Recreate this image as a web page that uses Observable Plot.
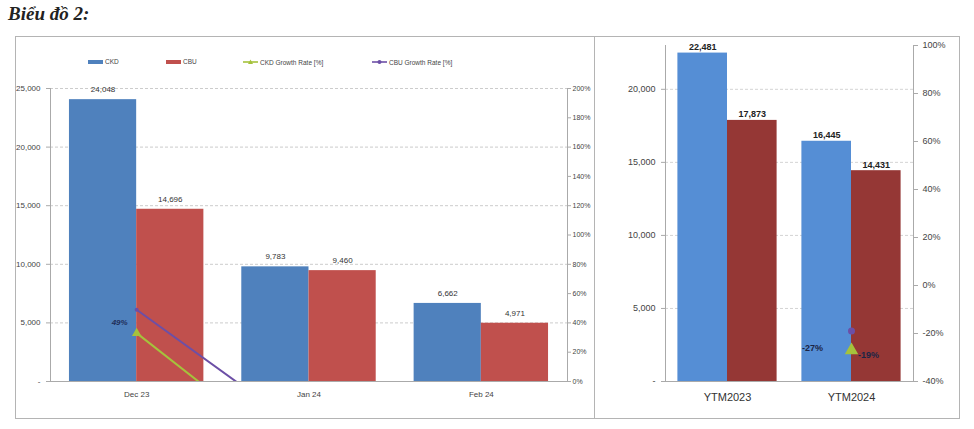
<!DOCTYPE html>
<html>
<head>
<meta charset="utf-8">
<script src="https://cdn.jsdelivr.net/npm/d3@7"></script>
<script src="https://cdn.jsdelivr.net/npm/@observablehq/plot@0.6"></script>
<style>
  html, body { margin: 0; padding: 0; background: #fff; }
  body { width: 974px; height: 429px; position: relative; overflow: hidden; font-family: "Liberation Sans", Arial, sans-serif; }
  #title { position: absolute; left: 8px; top: 3px; font-family: "Liberation Serif", "Times New Roman", serif; font-weight: bold; font-style: italic; font-size: 19px; color: #222; }
  .panel { position: absolute; top: 36px; height: 383px; box-sizing: border-box; border: 1px solid #b4b4b4; }
  #left { left: 15px; width: 580px; }
  #right { left: 594px; width: 366px; }
  #leftChart { position: absolute; left: 0; top: 43px; }
  #rightChart { position: absolute; left: 0; top: 0; }
  .legend { position: absolute; top: 21px; left: 0; width: 100%; height: 12px; font-size: 6.5px; color: #444; }
  .item { position: absolute; display: flex; align-items: center; white-space: nowrap; }
  .sw { display: inline-block; width: 15px; height: 4px; margin-right: 2px; }
  .ln { display: inline-block; width: 15px; height: 8px; margin-right: 2px; }
</style>
</head>
<body>
<div id="title">Biểu đồ 2:</div>
<div class="panel" id="left">
  <div class="legend" id="legend"></div>
  <div id="leftChart"></div>
</div>
<div class="panel" id="right">
  <div id="rightChart"></div>
</div>
<script>
// ---- data (left chart: monthly) ----
const months = ["Dec 23", "Jan 24", "Feb 24"];
const ckd = [24048, 9783, 6662];
const cbu = [14696, 9460, 4971];
const ckdGrowth = [33, -59, -32];   // %
const cbuGrowth = [49, -36, -47];   // %
const leftTicks = [0, 5000, 10000, 15000, 20000, 25000];
const leftPctTicks = [0, 20, 40, 60, 80, 100, 120, 140, 160, 180, 200];

// ---- data (right chart: year to month) ----
const periods = ["YTM2023", "YTM2024"];
const ckdYtm = [22481, 16445];
const cbuYtm = [17873, 14431];
const ckdYtmGrowth = [null, -27];
const cbuYtmGrowth = [null, -19];
const rightTicks = [0, 5000, 10000, 15000, 20000];
const rightPctTicks = [-40, -20, 0, 20, 40, 60, 80, 100];

const seriesNames = ["CKD", "CBU", "CKD Growth Rate [%]", "CBU Growth Rate [%]"];

// ---- colours ----
const blueL = "#4f81bd", redL = "#c0504d";
const blueR = "#558ed5", redR = "#953735";
const green = "#a5c23c", purple = "#6c4fa6";

const fmt = d3.format(",");
const tickFmt = v => v === 0 ? "-" : fmt(v);

// ---------- left chart ----------
const leftTable = months.map((m, i) => ({month: m, ckd: ckd[i], cbu: cbu[i], ckdG: ckdGrowth[i], cbuG: cbuGrowth[i]}));
const LW = 578, LH = 338, LML = 34, LMR = 27;
const lStep = (LW - LML - LMR) / months.length;
const lHalf = lStep * 0.78 / 2;
const lMax = 25000, lPctMax = 200;
const lp = p => p / lPctMax * lMax;   // percent -> left y units

const leftPlot = Plot.plot({
  width: LW, height: LH,
  marginTop: 8, marginBottom: 37, marginLeft: LML, marginRight: LMR,
  style: {fontFamily: "'Liberation Sans', Arial, sans-serif", fontSize: "8px", color: "#444", background: "transparent"},
  x: {domain: months, paddingInner: 0.22, paddingOuter: 0.11, round: false},
  y: {domain: [0, lMax]},
  marks: [
    Plot.gridY(leftTicks.filter(v => v > 0), {stroke: "#cccccc", strokeOpacity: 1, strokeDasharray: "3,2"}),
    Plot.barY(leftTable, {x: "month", y: "ckd", fill: blueL, insetRight: lHalf}),
    Plot.barY(leftTable, {x: "month", y: "cbu", fill: redL, insetLeft: lHalf}),
    Plot.text(leftTable, {x: "month", y: "ckd", text: d => fmt(d.ckd), dx: -lHalf / 2, dy: -10, fontSize: 8, fill: "#333"}),
    Plot.text(leftTable, {x: "month", y: "cbu", text: d => fmt(d.cbu), dx: lHalf / 2, dy: -10, fontSize: 8, fill: "#333"}),
    Plot.line(leftTable, {x: "month", y: d => lp(d.ckdG), stroke: green, strokeWidth: 2, clip: true}),
    Plot.line(leftTable, {x: "month", y: d => lp(d.cbuG), stroke: purple, strokeWidth: 2, clip: true}),
    Plot.dot(leftTable, {x: "month", y: d => lp(d.ckdG), symbol: "triangle", fill: green, r: 3.5, clip: true}),
    Plot.dot(leftTable, {x: "month", y: d => lp(d.cbuG), symbol: "circle", fill: purple, r: 2, clip: true}),
    Plot.text(leftTable.slice(0, 1), {x: "month", y: d => lp(d.cbuG), text: d => d.cbuG + "%", dx: -17, dy: 13, fontSize: 8, fontWeight: "bold", fontStyle: "italic", fill: "#1f2f5a"}),
    Plot.axisY({ticks: leftTicks, tickFormat: tickFmt, tickSize: 4, tickPadding: 6, label: null, stroke: "#aaa", fontSize: 8}),
    Plot.axisY({anchor: "right", ticks: leftPctTicks.map(lp), tickFormat: v => Math.round(v / lMax * lPctMax) + "%", tickSize: 3, tickPadding: 2, label: null, stroke: "#aaa", fontSize: 7}),
    Plot.axisX({tickSize: 0, tickPadding: 10, label: null, fontSize: 8}),
    Plot.frame({anchor: "left", stroke: "#aaa"}),
    Plot.frame({anchor: "right", stroke: "#aaa"}),
    Plot.frame({anchor: "bottom", stroke: "#aaa"})
  ]
});
document.getElementById("leftChart").appendChild(leftPlot);

// legend
const legendItems = [
  {name: seriesNames[0], color: blueL, kind: "bar", left: 72},
  {name: seriesNames[1], color: redL, kind: "bar", left: 150},
  {name: seriesNames[2], color: green, kind: "line", marker: "tri", left: 227},
  {name: seriesNames[3], color: purple, kind: "line", marker: "dot", left: 356}
];
const lg = document.getElementById("legend");
legendItems.forEach(it => {
  const d = document.createElement("div");
  d.className = "item";
  d.style.left = it.left + "px";
  let sw;
  if (it.kind === "bar") {
    sw = `<span class="sw" style="background:${it.color}"></span>`;
  } else {
    const mk = it.marker === "tri"
      ? `<path d="M7.5 1.5 L10 6 L5 6 Z" fill="${it.color}"/>`
      : `<circle cx="7.5" cy="4" r="2" fill="${it.color}"/>`;
    sw = `<svg class="ln" viewBox="0 0 15 8"><line x1="0" y1="4" x2="15" y2="4" stroke="${it.color}" stroke-width="1.6"/>${mk}</svg>`;
  }
  d.innerHTML = sw + `<span>${it.name}</span>`;
  lg.appendChild(d);
});

// ---------- right chart ----------
const rightTable = periods.map((p, i) => ({period: p, ckd: ckdYtm[i], cbu: cbuYtm[i], ckdG: ckdYtmGrowth[i], cbuG: cbuYtmGrowth[i]}));
const RW = 364, RH = 381, RML = 70, RMR = 46;
const rStep = (RW - RML - RMR) / periods.length;
const rHalf = rStep * 0.8 / 2;
const rMax = 23000, rPctMin = -40, rPctMax = 100;
const rp = p => (p - rPctMin) / (rPctMax - rPctMin) * rMax;
const growthRows = rightTable.filter(d => d.ckdG !== null);

const rightPlot = Plot.plot({
  width: RW, height: RH,
  marginTop: 8, marginBottom: 37, marginLeft: RML, marginRight: RMR,
  style: {fontFamily: "'Liberation Sans', Arial, sans-serif", fontSize: "9px", color: "#444", background: "transparent"},
  x: {domain: periods, paddingInner: 0.2, paddingOuter: 0.1, round: false},
  y: {domain: [0, rMax]},
  marks: [
    Plot.gridY(rightTicks.filter(v => v > 0), {stroke: "#d4d4d4", strokeOpacity: 1, strokeDasharray: "3,2"}),
    Plot.barY(rightTable, {x: "period", y: "ckd", fill: blueR, insetRight: rHalf}),
    Plot.barY(rightTable, {x: "period", y: "cbu", fill: redR, insetLeft: rHalf}),
    Plot.text(rightTable, {x: "period", y: "ckd", text: d => fmt(d.ckd), dx: -rHalf / 2, dy: -6, fontSize: 9, fontWeight: "bold", fill: "#222"}),
    Plot.text(rightTable, {x: "period", y: "cbu", text: d => fmt(d.cbu), dx: rHalf / 2, dy: -6, fontSize: 9, fontWeight: "bold", fill: "#222"}),
    Plot.dot(growthRows, {x: "period", y: d => rp(d.cbuG), symbol: "circle", fill: purple, r: 3.5}),
    Plot.dot(growthRows, {x: "period", y: d => rp(d.ckdG), symbol: "triangle", fill: green, r: 5}),
    Plot.text(growthRows, {x: "period", y: d => rp(d.ckdG), text: d => d.ckdG + "%", dx: -39, dy: -2, fontSize: 9, fontWeight: "bold", fill: "#1b2545"}),
    Plot.text(growthRows, {x: "period", y: d => rp(d.cbuG), text: d => d.cbuG + "%", dx: 17, dy: 24, fontSize: 9, fontWeight: "bold", fill: "#1b2545"}),
    Plot.axisY({ticks: rightTicks, tickFormat: tickFmt, tickSize: 4, tickPadding: 6, label: null, stroke: "#aaa", fontSize: 9}),
    Plot.axisY({anchor: "right", ticks: rightPctTicks.map(rp), tickFormat: v => Math.round(v / rMax * (rPctMax - rPctMin) + rPctMin) + "%", tickSize: 4, tickPadding: 5, label: null, stroke: "#aaa", fontSize: 9}),
    Plot.axisX({tickSize: 0, tickPadding: 12, label: null, fontSize: 11, fill: "#333"}),
    Plot.frame({anchor: "left", stroke: "#aaa"}),
    Plot.frame({anchor: "right", stroke: "#aaa"}),
    Plot.frame({anchor: "bottom", stroke: "#aaa"})
  ]
});
document.getElementById("rightChart").appendChild(rightPlot);
</script>
</body>
</html>
